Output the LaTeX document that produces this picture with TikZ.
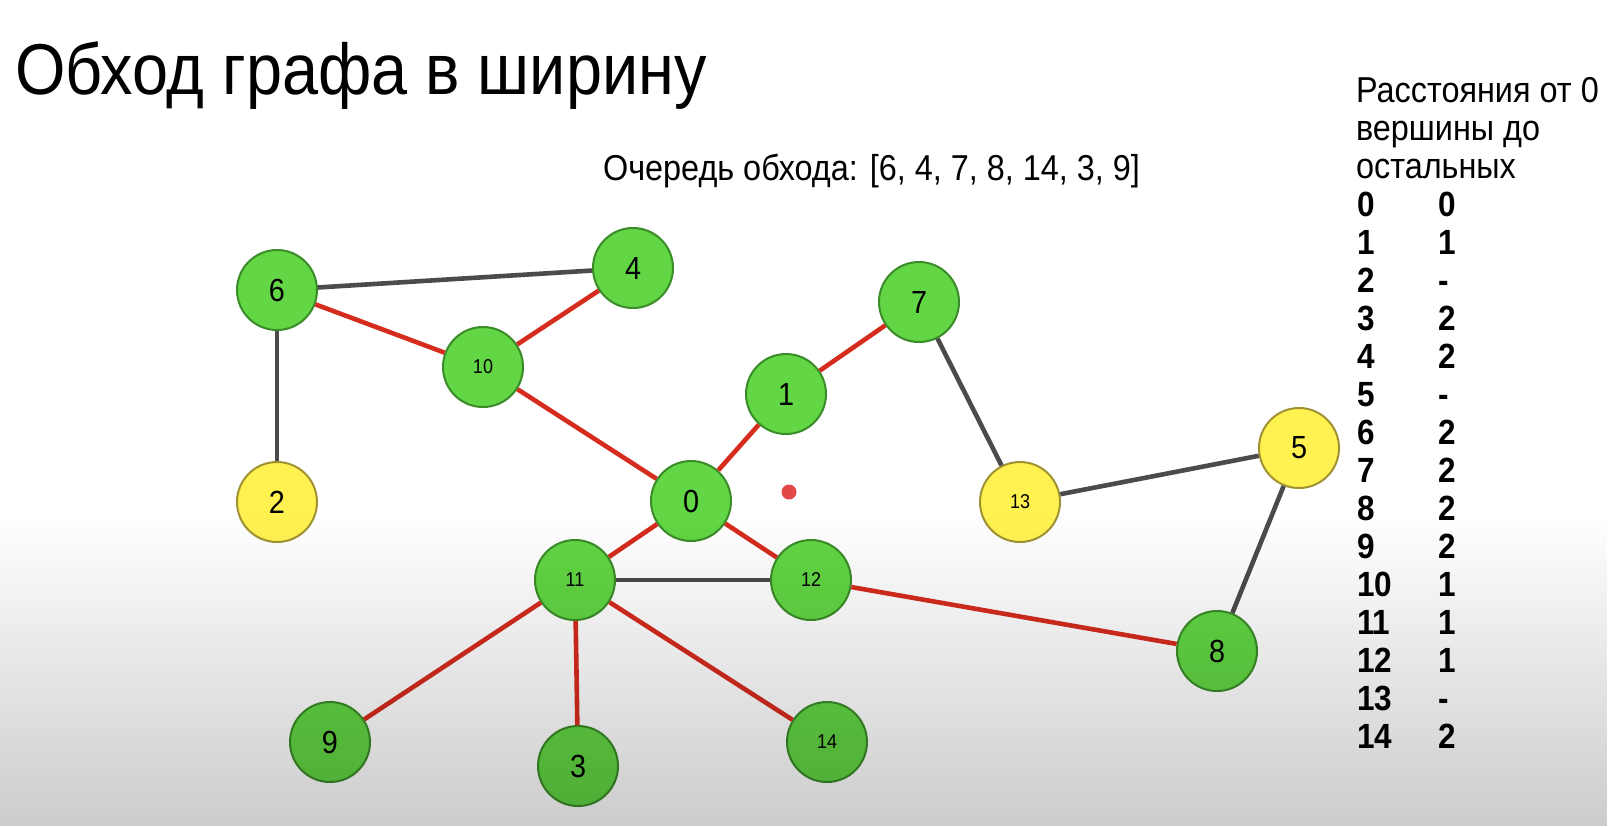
\documentclass[tikz,border=0pt]{standalone}
\usepackage{fontspec}
\setmainfont{Liberation Sans}[FakeStretch=0.9]
\usetikzlibrary{fadings}

\definecolor{nodegreen}{RGB}{98,214,68}
\definecolor{greenline}{RGB}{58,140,40}
\definecolor{nodeyellow}{RGB}{255,242,80}
\definecolor{yellowline}{RGB}{160,146,50}
\definecolor{edgered}{RGB}{214,44,30}
\definecolor{edgegray}{RGB}{75,75,75}
\definecolor{dotred}{RGB}{226,72,72}
\tikzfading[name=fadedown, top color=transparent!100, bottom color=transparent!0]

\begin{document}
\begin{tikzpicture}[x=0.5pt,y=-0.5pt,
  vertex/.style={circle,draw=greenline,fill=nodegreen,line width=1pt,minimum size=40pt,
    inner sep=0pt,font=\fontsize{16}{16}\selectfont},
  unvisited/.style={vertex,draw=yellowline,fill=nodeyellow},
  twodigit/.style={font=\fontsize{10}{10}\selectfont},
  treeedge/.style={line width=2.3pt,edgered},
  otheredge/.style={line width=2.3pt,edgegray},
  caption/.style={anchor=base west,font=\fontsize{18}{18}\selectfont},
  rowtext/.style={anchor=base west,font=\fontsize{17.5}{18}\selectfont\bfseries}
]
  \useasboundingbox (0,0) rectangle (1610,826);
  \fill[white] (0,0) rectangle (1610,826);

  \node[anchor=base west,font=\fontsize{36}{36}\selectfont] (title) at (8,94.5)
    {Обход графа в ширину};
  \node[caption] (queue) at (596,180) {Очередь обхода: [6, 4, 7, 8, 14, 3, 9]};

  % vertices
  \node[vertex] (v6) at (277,290) {6};
  \node[vertex] (v4) at (633,268) {4};
  \node[vertex,twodigit] (v10) at (483,367) {10};
  \node[unvisited] (v2) at (277,502) {2};
  \node[vertex] (v0) at (691,501) {0};
  \node[vertex] (v1) at (786,394) {1};
  \node[vertex] (v7) at (919,302) {7};
  \node[unvisited,twodigit] (v13) at (1020,502) {13};
  \node[unvisited] (v5) at (1299,448) {5};
  \node[vertex,twodigit] (v11) at (575,580) {11};
  \node[vertex,twodigit] (v12) at (811,580) {12};
  \node[vertex] (v8) at (1217,651) {8};
  \node[vertex] (v9) at (330,742) {9};
  \node[vertex] (v3) at (578,766) {3};
  \node[vertex,twodigit] (v14) at (827,742) {14};
  \node[circle,fill=dotred,minimum size=7.5pt,inner sep=0pt] (cursor) at (789,492) {};

  % edges
  \draw[otheredge] (v6)--(v4); \draw[otheredge] (v6)--(v2);
  \draw[otheredge] (v7)--(v13); \draw[otheredge] (v13)--(v5);
  \draw[otheredge] (v5)--(v8); \draw[otheredge] (v11)--(v12);
  \draw[treeedge] (v6)--(v10); \draw[treeedge] (v10)--(v4);
  \draw[treeedge] (v10)--(v0); \draw[treeedge] (v0)--(v1);
  \draw[treeedge] (v1)--(v7); \draw[treeedge] (v0)--(v11);
  \draw[treeedge] (v0)--(v12); \draw[treeedge] (v12)--(v8);
  \draw[treeedge] (v11)--(v9); \draw[treeedge] (v11)--(v3);
  \draw[treeedge] (v11)--(v14);

  % distance table
  \node[caption] (headA) at (1349,102) {Расстояния от 0};
  \node[caption] (headB) at (1349,140) {вершины до};
  \node[caption] (headC) at (1349,178) {остальных};
  \node[rowtext] (k0) at (1350,216) {0};   \node[rowtext] (d0) at (1431,216) {0};
  \node[rowtext] (k1) at (1350,254) {1};   \node[rowtext] (d1) at (1431,254) {1};
  \node[rowtext] (k2) at (1350,292) {2};   \node[rowtext] (d2) at (1431,292) {-};
  \node[rowtext] (k3) at (1350,330) {3};   \node[rowtext] (d3) at (1431,330) {2};
  \node[rowtext] (k4) at (1350,368) {4};   \node[rowtext] (d4) at (1431,368) {2};
  \node[rowtext] (k5) at (1350,406) {5};   \node[rowtext] (d5) at (1431,406) {-};
  \node[rowtext] (k6) at (1350,444) {6};   \node[rowtext] (d6) at (1431,444) {2};
  \node[rowtext] (k7) at (1350,482) {7};   \node[rowtext] (d7) at (1431,482) {2};
  \node[rowtext] (k8) at (1350,520) {8};   \node[rowtext] (d8) at (1431,520) {2};
  \node[rowtext] (k9) at (1350,558) {9};   \node[rowtext] (d9) at (1431,558) {2};
  \node[rowtext] (k10) at (1350,596) {10}; \node[rowtext] (d10) at (1431,596) {1};
  \node[rowtext] (k11) at (1350,634) {11}; \node[rowtext] (d11) at (1431,634) {1};
  \node[rowtext] (k12) at (1350,672) {12}; \node[rowtext] (d12) at (1431,672) {1};
  \node[rowtext] (k13) at (1350,710) {13}; \node[rowtext] (d13) at (1431,710) {-};
  \node[rowtext] (k14) at (1350,748) {14}; \node[rowtext] (d14) at (1431,748) {2};

  % darkening towards the bottom
  \fill[black,opacity=0.2,path fading=fadedown] (0,515) rectangle (1610,826);
\end{tikzpicture}
\end{document}
